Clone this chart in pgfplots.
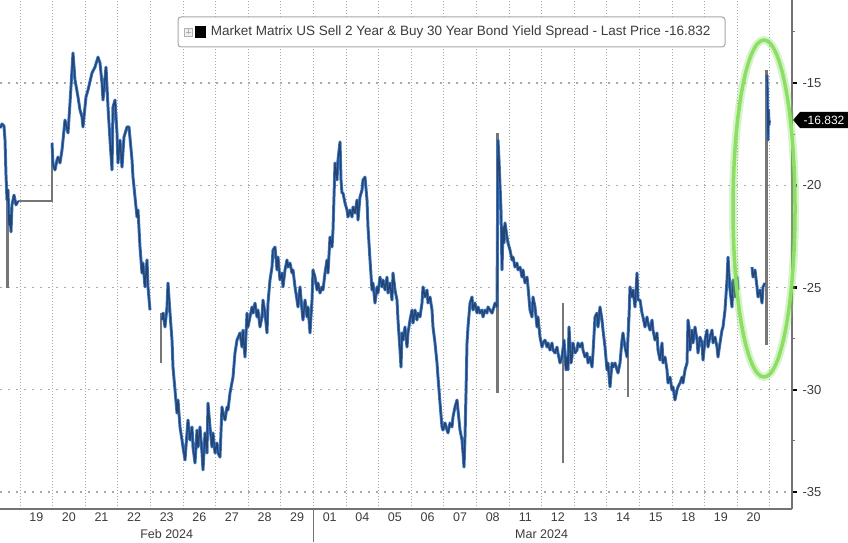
\documentclass[border=0pt]{standalone}
\usepackage{fontspec}
\setmainfont{Liberation Sans}
\usepackage{pgfplots}
\usepackage{pgfplotstable}
\pgfplotsset{compat=1.18}

\definecolor{ser}{RGB}{58,118,196}
\definecolor{serdk}{RGB}{25,35,55}
\definecolor{spk}{RGB}{118,118,118}
\definecolor{grd}{RGB}{170,170,170}
\definecolor{axc}{RGB}{115,115,115}
\definecolor{lbl}{RGB}{60,60,60}
\definecolor{halo}{RGB}{140,222,100}

% x = trading-time position (one day = 32.6 units), y = spread (bp)
\pgfplotstableread{
x y
0 -17.20
2 -17.00
4 -17.10
5 -17.79
6 -19.50
7 -20.72
8 -20.23
9 -21.94
10 -21.45
11 -22.28
12 -20.96
14 -20.48
16 -20.96
18 -20.77
19 nan
52 -17.93
53 -19.01
55 -19.25
57 -18.76
58 -18.62
60 -18.91
62 -18.28
65 -16.81
68 -17.44
70 -15.98
73 -13.53
75 -14.85
78 -15.68
80 -16.32
82 -16.66
83 -17.15
86 -15.68
88 -15.34
92 -14.51
95 -14.22
98 -13.73
100 -14.02
102 -15.00
103 -15.83
106 -14.22
108 -16.17
110 -17.79
112 -19.25
113 -16.17
115 -15.83
117 -17.44
118 -18.91
120 -17.79
122 -19.11
124 -17.64
127 -17.15
129 -17.15
132 -18.76
133 -19.60
135 -20.57
137 -21.55
138 -21.21
140 -23.02
142 -24.29
143 -23.80
145 -24.97
147 -23.65
148 -24.97
150 -26.10
155 nan
162 -26.59
163 -26.25
165 -26.93
167 -25.95
168 -24.78
170 -26.25
172 -27.57
173 -28.89
175 -30.01
177 -31.14
178 -30.50
180 -31.82
182 -32.46
183 -32.80
185 -33.43
187 -32.11
188 -31.48
190 -32.46
192 -31.82
193 -32.80
195 -33.58
197 -31.97
198 -32.80
200 -31.82
202 -33.09
203 -33.92
205 -32.11
207 -33.09
208 -30.65
210 -31.82
212 -32.80
213 -32.11
215 -33.09
217 -32.60
218 -33.09
220 -33.29
222 -30.84
223 -31.14
225 -31.48
227 -30.84
228 -30.99
230 -30.16
233 -29.38
235 -28.20
237 -27.57
240 -27.22
242 -27.91
243 -27.08
245 -28.40
247 -26.25
248 -26.93
250 -26.44
252 -25.95
253 -26.25
255 -25.76
257 -26.44
258 -26.10
260 -26.93
262 -26.44
263 -25.61
265 -26.25
267 -27.22
268 -25.76
270 -24.63
272 -24.00
273 -23.17
275 -23.02
277 -24.14
278 -23.51
280 -24.63
282 -24.29
283 -24.97
285 -24.14
287 -23.65
288 -24.00
290 -23.80
292 -24.29
293 -24.14
295 -24.97
297 -25.61
298 -25.95
300 -24.97
302 -26.10
303 -26.59
305 -25.61
307 -26.44
308 -25.95
310 -27.22
312 -25.61
313 -24.14
315 -24.49
317 -25.12
318 -24.78
320 -25.27
322 -24.97
323 -25.12
325 -24.29
327 -23.65
328 -24.29
330 -22.53
332 -23.02
333 -22.19
335 -18.91
337 -19.74
338 -18.76
340 -17.88
341 -19.74
342 -20.38
343 -20.38
345 -20.87
347 -21.21
348 -21.55
350 -21.21
352 -21.55
353 -21.06
355 -21.36
357 -20.72
358 -21.70
360 -20.57
362 -20.23
363 -19.74
365 -19.60
367 -20.72
368 -22.04
370 -23.65
372 -25.12
373 -24.78
375 -25.76
377 -24.97
378 -25.27
380 -24.49
382 -24.97
383 -24.63
385 -25.12
387 -24.49
388 -25.27
390 -24.78
392 -25.61
393 -24.29
395 -25.12
397 -25.61
398 -26.59
400 -28.06
401 -28.89
402 -27.22
403 -27.57
405 -26.93
407 -27.91
408 -27.22
410 -26.59
412 -26.10
413 -26.74
415 -26.10
417 -26.59
418 -26.25
420 -26.44
422 -25.76
423 -24.97
425 -25.46
427 -25.12
428 -25.76
430 -25.46
432 -26.10
433 -26.93
435 -27.71
437 -28.69
438 -29.38
440 -30.65
442 -31.82
443 -31.97
445 -31.62
447 -31.97
448 -32.11
450 -31.62
452 -31.82
453 -31.33
455 -30.84
457 -30.50
458 -30.99
460 -31.97
462 -32.46
463 -33.09
464 -33.78
465 -32.31
466 -30.16
467 -27.71
468 -26.93
470 -25.76
472 -25.46
473 -26.10
475 -25.76
477 -26.25
478 -25.95
480 -26.25
482 -26.10
483 -26.44
485 -26.10
487 -26.25
488 -25.95
490 -26.10
492 -26.25
493 -26.10
495 -25.76
497 -25.95
498 -17.79
499 -18.76
501 -21.21
502 -24.14
503 -22.04
504 -22.82
505 -21.84
507 -22.53
508 -22.82
510 -23.17
512 -23.65
513 -23.51
515 -24.00
517 -23.80
518 -24.14
520 -24.00
522 -24.49
523 -24.14
525 -24.78
527 -24.49
528 -24.97
530 -26.10
532 -26.44
533 -25.46
535 -25.95
537 -26.93
538 -26.44
540 -27.42
542 -27.91
543 -27.71
545 -27.57
547 -27.91
548 -27.71
550 -28.06
552 -27.71
553 -28.06
555 -28.20
557 -27.91
558 -28.20
560 -28.69
562 -28.40
564 -27.57
566 -29.03
567 -28.40
568 -29.03
569 -26.93
571 -28.69
572 -28.40
573 -27.71
575 -28.20
577 -28.06
578 -27.71
580 -27.91
582 -27.71
583 -28.06
585 -28.40
587 -28.20
588 -28.69
590 -28.40
592 -28.89
593 -28.20
595 -26.44
597 -26.25
598 -26.93
600 -25.95
602 -26.59
603 -27.08
605 -27.91
607 -29.03
608 -28.69
610 -29.86
612 -28.69
613 -28.89
615 -28.69
617 -29.03
618 -29.18
620 -28.69
622 -27.57
623 -27.22
625 -27.91
627 -28.40
629 -26.44
630 -24.97
632 -25.46
633 -25.12
635 -25.95
637 -24.29
638 -25.61
640 -25.61
642 -26.25
643 -26.44
645 -26.93
647 -26.44
648 -26.74
650 -27.08
652 -26.59
653 -27.08
655 -27.57
657 -27.22
658 -28.06
660 -28.55
662 -27.71
663 -28.69
665 -28.40
667 -29.03
668 -29.67
670 -29.38
672 -30.01
673 -29.86
675 -30.50
677 -30.01
678 -29.86
680 -29.67
682 -29.38
683 -29.67
685 -29.03
687 -28.69
688 -26.59
689 -26.93
690 -28.06
692 -27.08
693 -27.71
695 -26.93
697 -27.57
698 -28.20
700 -27.42
702 -27.71
703 -28.55
705 -27.57
707 -27.08
708 -27.91
710 -27.42
712 -27.08
713 -27.71
715 -27.42
717 -27.91
718 -28.40
720 -27.71
722 -27.08
723 -26.93
725 -26.10
727 -24.63
728 -23.51
730 -25.12
732 -25.95
733 -24.63
735 -25.46
737 -24.49
738 -25.12
745 nan
752 -24.00
753 -24.49
755 -24.14
757 -24.97
758 -25.46
760 -25.12
762 -25.76
763 -24.97
765 -24.78
766 nan
767 -14.60
767.5 -15.83
768 -17.79
768.5 -16.32
769 -17.05
769.5 -16.83
}\spread

% thin vertical prints and the holiday flat line
\pgfplotstableread{
x y
7.3 -20.72
7.3 -25.02
8 nan
18 -20.77
52 -20.77
52 -17.93
53 nan
161 -26.25
161 -28.69
162 nan
497.5 -30.16
497.5 -17.44
498 nan
563 -25.76
563 -33.58
564 nan
628 -30.35
628 -26.44
629 nan
766.5 -27.81
766.5 -14.36
}\spikes

\begin{document}
\begin{tikzpicture}[x=1pt,y=1pt]
\useasboundingbox (0,-33) rectangle (848,509);
\begin{axis}[
  at={(0,0)}, anchor=south west, scale only axis,
  width=792pt, height=509pt,
  xmin=0, xmax=792, ymin=-35.83, ymax=-10.94,
  axis x line*=bottom, axis y line*=right,
  axis line style={axc, line width=1.5pt, -},
  xtick={36.3,68.9,101.5,134.1,166.7,199.3,231.9,264.5,297.1,329.7,362.3,394.9,427.5,460.1,492.7,525.3,557.9,590.5,623.1,655.7,688.3,720.9,753.5},
  xticklabels={19,20,21,22,23,26,27,28,29,01,04,05,06,07,08,11,12,13,14,15,18,19,20},
  minor xtick={20,52.6,85.2,117.8,150.4,183,215.6,248.2,280.8,313.4,346,378.6,411.2,443.8,476.4,509,541.6,574.2,606.8,639.4,672,704.6,737.2,769.8},
  xminorgrids, ymajorgrids,
  minor x grid style={grd, line width=1pt, dash pattern=on 1pt off 2pt},
  major y grid style={grd, line width=1.3pt, dash pattern=on 2pt off 6pt},
  major x tick style={draw=none},
  minor x tick style={draw=none},
  ytick={-35,-30,-25,-20,-15},
  yticklabels={-35,-30,-25,-20,-15},
  minor ytick={-32.5,-27.5,-22.5,-17.5,-12.5},
  ytick align=outside,
  major y tick style={black, line width=2.5pt},
  minor y tick style={axc, line width=1pt},
  major tick length=5pt, minor tick length=3pt,
  yticklabel pos=right,
  yticklabel style={font=\fontsize{13}{15}\selectfont, text=lbl, anchor=west, xshift=2pt},
  xticklabel style={font=\fontsize{12.5}{14}\selectfont, text=lbl},
  unbounded coords=jump,
]
\addplot[spk, line width=2.6pt, no marks] table {\spikes};
\addplot[ser, line width=3pt, no marks, line join=round] table {\spread};
\addplot[serdk, line width=1.3pt, opacity=0.6, no marks, line join=round] table {\spread};
\end{axis}

% month separator and month labels
\draw[axc, line width=1.5pt] (313.4,0) -- (313.4,-33);
\node[text=lbl, font=\fontsize{12.5}{14}\selectfont] at (166.7,-25) {Feb 2024};
\node[text=lbl, font=\fontsize{12.5}{14}\selectfont] at (541.6,-25) {Mar 2024};

% legend box
\draw[rounded corners=3pt, draw=gray!70, line width=1pt, fill=white] (178,462) rectangle (725,492);
\draw[gray!60, fill=gray!12, line width=0.6pt] (184.5,473) rectangle (192,481);
\draw[gray!60, line width=0.6pt] (188.25,474.5) -- (188.25,479.5) (186,477) -- (190.5,477);
\fill[black] (194.7,471) rectangle (206,483);
\node[anchor=west, inner sep=0, text=lbl, font=\fontsize{13.5}{16}\selectfont] at (210.6,477)
  {Market Matrix US Sell 2 Year \& Buy 30 Year Bond Yield Spread - Last Price -16.832};

% last price tag
\fill[black] (793,389) -- (800,397) -- (848,397) -- (848,381) -- (800,381) -- cycle;
\node[text=white, font=\fontsize{12}{14}\selectfont, inner sep=0] at (824,389) {-16.832};

% highlight ellipse
\draw[halo, line width=8pt, opacity=0.35] (764,300.5) ellipse [x radius=31, y radius=168.5];
\draw[halo, line width=3.5pt] (764,300.5) ellipse [x radius=31, y radius=168.5];
\end{tikzpicture}
\end{document}
